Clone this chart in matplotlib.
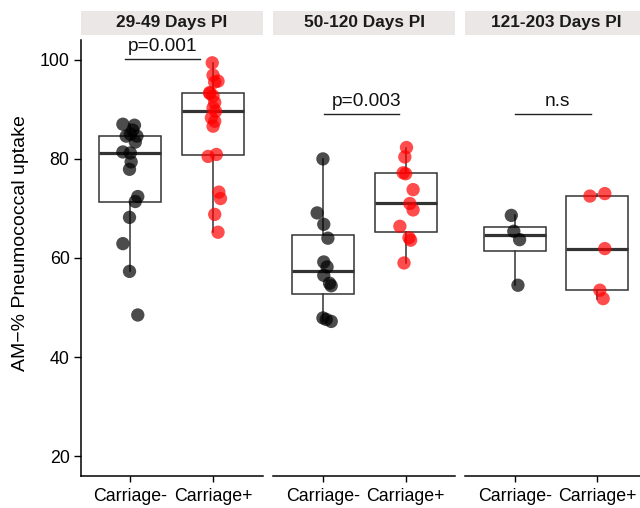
import matplotlib
matplotlib.use('Agg')
import matplotlib.pyplot as plt

plt.rcParams['font.family'] = ['Liberation Sans', 'DejaVu Sans']

# ---------------- data ----------------
panels = ['29-49 Days PI', '50-120 Days PI', '121-203 Days PI']
groups = ['Carriage-', 'Carriage+']

neg_29_49 = [87.0, 86.8, 85.8, 84.6, 84.6, 83.4, 85.0, 81.4, 81.2, 79.4, 77.9,
             72.4, 71.4, 68.2, 62.9, 57.3, 48.5]
pos_29_49 = [99.4, 96.9, 95.7, 95.5, 93.2, 93.4, 92.7, 91.4, 90.3, 89.6, 88.3,
             87.6, 86.6, 80.5, 80.9, 73.3, 72.0, 68.8, 65.2]
neg_50_120 = [80.0, 69.1, 66.8, 64.0, 59.2, 58.2, 56.5, 54.9, 54.4, 47.9, 47.6, 47.2]
pos_50_120 = [82.3, 80.4, 77.2, 77.0, 73.8, 71.0, 69.7, 66.4, 64.1, 63.6, 59.0]
neg_121_203 = [68.6, 65.4, 63.7, 54.5]
pos_121_203 = [72.5, 73.0, 61.9, 53.5, 51.8]

# horizontal jitter (category units)
jit_neg_29_49 = [-0.09, 0.05, 0.03, -0.05, 0.08, 0.06, 0.0, -0.09, 0.0, 0.01, -0.01,
                 0.09, 0.06, -0.01, -0.09, -0.01, 0.09]
jit_pos_29_49 = [-0.01, 0.0, 0.06, 0.02, -0.04, -0.04, 0.0, 0.02, 0.0, 0.03, -0.02,
                 0.02, 0.0, -0.06, 0.04, 0.07, 0.09, 0.02, 0.06]
jit_neg_50_120 = [0.0, -0.07, 0.01, 0.06, 0.01, 0.05, 0.01, 0.08, 0.10, 0.0, 0.04, 0.10]
jit_pos_50_120 = [0.01, -0.01, -0.03, 0.0, 0.09, 0.05, 0.09, -0.07, 0.04, 0.06, -0.02]
jit_neg_121_203 = [-0.04, -0.01, 0.06, 0.04]
jit_pos_121_203 = [-0.09, 0.09, 0.09, 0.03, 0.07]

values = [(neg_29_49, pos_29_49), (neg_50_120, pos_50_120), (neg_121_203, pos_121_203)]
jitters = [(jit_neg_29_49, jit_pos_29_49), (jit_neg_50_120, jit_pos_50_120),
           (jit_neg_121_203, jit_pos_121_203)]

sig_labels = ['p=0.001', 'p=0.003', 'n.s']
sig_y = [100.1, 89.0, 89.0]
sig_x = [(0.94, 1.84), (1.01, 1.92), (1.0, 1.92)]
sig_text_x = [1.39, 1.53, 1.52]

y_ticks = [20, 40, 60, 80, 100]

# ---------------- figure ----------------
W, H = 640, 508
fig = plt.figure(figsize=(W / 100, H / 100), dpi=100)

panel_left_px = [80.7, 273.3, 465.0]
panel_w_px = 182.0
panel_top_px, panel_bot_px = 40.0, 476.0
strip_top_px, strip_bot_px = 11.0, 35.0

box_col = '#333333'
point_cols = ['#000000', '#ff0000']

for i, name in enumerate(panels):
    l = panel_left_px[i] / W
    b = (H - panel_bot_px) / H
    h = (panel_bot_px - panel_top_px) / H
    ax = fig.add_axes([l, b, panel_w_px / W, h])
    neg, pos = values[i]
    ax.boxplot([neg, pos], positions=[1, 2], widths=0.75, whis=1.5,
               showfliers=False, showcaps=False, patch_artist=True,
               boxprops=dict(facecolor='white', edgecolor=box_col, linewidth=1.1),
               medianprops=dict(color=box_col, linewidth=2.3),
               whiskerprops=dict(color=box_col, linewidth=1.1), zorder=2)
    for g in range(2):
        ys = values[i][g]
        xs = [g + 1 + j for j in jitters[i][g]]
        ax.scatter(xs, ys, s=92, color=point_cols[g], alpha=0.7,
                   edgecolors='none', zorder=3)
    # significance bracket
    x1, x2 = sig_x[i]
    ax.plot([x1, x2], [sig_y[i], sig_y[i]], color='#222222', lw=1.0,
            zorder=4, clip_on=False)
    ax.text(sig_text_x[i], sig_y[i] + 0.9, sig_labels[i], ha='center',
            va='bottom', fontsize=13.8, color='#111111')

    ax.set_xlim(0.4, 2.6)
    ax.set_ylim(16, 104)
    ax.set_xticks([1, 2])
    ax.set_xticklabels(groups, fontsize=12.8, color='black')
    for s in ['top', 'right']:
        ax.spines[s].set_visible(False)
    ax.spines['bottom'].set_linewidth(1.1)
    ax.spines['bottom'].set_color('black')
    ax.tick_params(axis='x', length=4, width=1.0, pad=4.5, colors='black')
    if i == 0:
        ax.spines['left'].set_linewidth(1.1)
        ax.spines['left'].set_color('black')
        ax.set_yticks(y_ticks)
        ax.tick_params(axis='y', length=5, width=1.0, pad=3, labelsize=12.8,
                       colors='black')
    else:
        ax.spines['left'].set_visible(False)
        ax.set_yticks([])
    ax.set_facecolor('none')

    # strip
    sax = fig.add_axes([l, (H - strip_bot_px) / H, panel_w_px / W,
                        (strip_bot_px - strip_top_px) / H])
    sax.set_facecolor('#ebe7e7')
    for s in sax.spines.values():
        s.set_visible(False)
    sax.set_xticks([])
    sax.set_yticks([])
    sax.text(0.5, 0.5, name, ha='center', va='center', fontsize=12.4,
             fontweight='bold', color='#1a1a1a', transform=sax.transAxes)

fig.text(21 / W, (H - 243) / H, 'AM\u2212% Pneumococcal uptake', rotation=90,
         ha='center', va='center', fontsize=14.0, color='black')

fig.savefig('out.png', dpi=100)
